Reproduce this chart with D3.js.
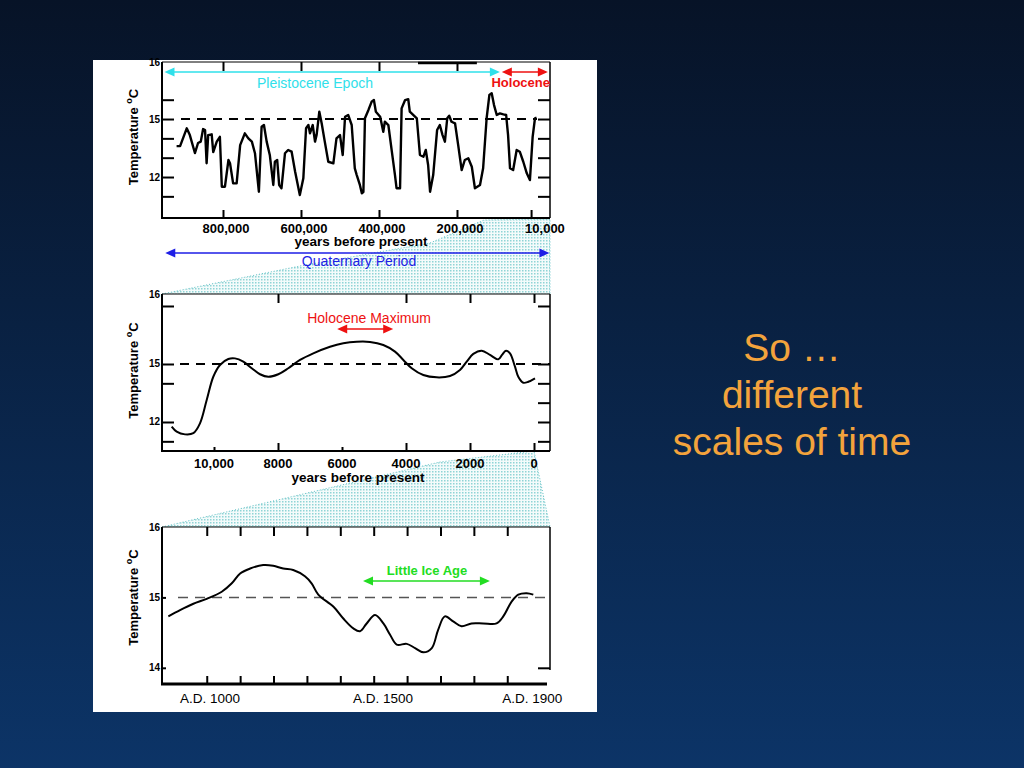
<!DOCTYPE html>
<html>
<head>
<meta charset="utf-8">
<script src="https://cdn.jsdelivr.net/npm/d3@7"></script>
<style>
body { margin: 0; background: #0a1f3d; }
text { font-family: "Liberation Sans", Arial, sans-serif; }
</style>
</head>
<body>
<svg width="1024" height="768"></svg>
<script>
// top panel: thousands of years before present / temperature
const topKyr = [919,910,893,885,872,864,857,851,846,842,838,829,825,816,808,803,795,786,782,774,
  765,756,744,735,726,718,708,701,695,688,680,671,667,661,656,650,641,633,624,615,
  603,594,587,581,577,570,564,560,553,547,539,530,517,509,500,493,487,479,470,462,
  457,449,444,440,436,427,419,413,408,397,389,385,376,367,359,355,346,342,333,325,
  321,303,295,286,280,274,269,261,251,244,237,231,225,220,214,205,197,188,180,171,
  162,154,141,133,124,117,111,105,98,90,81,74,69,64,56,47,39,30,21,13,6,0,-4];
const topTemp = [13.60,13.60,14.52,14.17,13.24,13.76,13.83,14.48,14.43,12.71,14.17,14.21,13.29,13.83,14.08,11.50,11.50,12.88,12.71,11.67,
  11.67,13.65,14.26,14.00,13.83,13.23,11.24,14.60,14.69,13.83,13.14,11.59,12.79,12.88,11.59,11.42,13.23,13.40,13.31,12.27,
  11.07,11.93,14.52,14.69,14.26,14.69,13.83,14.17,15.38,14.78,13.83,12.79,12.71,14.00,14.17,13.14,15.12,15.21,14.69,12.45,
  12.10,11.59,11.16,11.22,15.04,15.47,15.89,15.98,15.38,15.12,14.34,14.86,14.69,13.31,12.10,11.42,11.42,15.55,15.98,16.03,
  15.38,15.04,13.14,13.05,13.40,12.62,11.24,12.10,14.43,14.69,14.17,13.83,15.04,15.17,14.86,14.78,13.66,12.36,12.88,12.97,
  12.53,11.42,11.59,12.45,15.04,16.24,16.33,15.72,15.21,15.29,15.24,15.21,14.17,12.45,12.36,13.40,13.31,12.79,12.19,11.84,14.08,15.04,15.07];

// middle panel: years before present / temperature
const midYears = [11322,11166,10906,10647,10438,10228,10022,9813,9553,9344,9084,8822,8563,8303,7991,7678,7313,6897,6375,5959,
  5541,5125,4709,4344,4084,3822,3459,3041,2625,2313,2103,1897,1634,1375,1116,1000,875,750,594,491,334,178,-31];
const midTemp = [11.76,11.50,11.36,11.42,11.93,13.14,14.34,14.95,15.26,15.29,15.12,14.78,14.47,14.34,14.47,14.78,15.21,15.55,15.89,16.07,
  16.15,16.14,15.98,15.64,15.21,14.78,14.43,14.31,14.38,14.69,15.12,15.52,15.69,15.47,15.24,15.47,15.69,15.55,14.86,14.34,14.03,14.08,14.26];

// bottom panel: year A.D. / temperature
const botYears = [885,920,960,1000,1045,1075,1100,1130,1169,1199,1229,1259,1294,1314,1334,1379,1409,1439,1459,1479,
  1504,1529,1549,1569,1599,1624,1649,1674,1693,1713,1738,1763,1793,1828,1868,1888,1913,1933,1958,1978];
const botTemp = [14.73,14.82,14.91,14.98,15.08,15.20,15.34,15.41,15.46,15.45,15.41,15.39,15.30,15.20,15.04,14.87,14.70,14.56,14.52,14.63,
  14.75,14.63,14.47,14.33,14.34,14.28,14.22,14.28,14.54,14.73,14.66,14.59,14.63,14.63,14.63,14.73,14.94,15.04,15.06,15.04];

// ticks and labels
const topXTicks = [800, 600, 400, 200];
const topXLabelVals = [800, 600, 400, 200, 10];
const topXLabels = ["800,000", "600,000", "400,000", "200,000", "10,000"];
const topYTicks = [16, 15, 14, 13, 12, 11];
const midXMajor = [8000, 4000, 2000, 0];
const midXMinor = [10000, 6000];
const midXLabelVals = [10000, 8000, 6000, 4000, 2000, 0];
const midXLabels = ["10,000", "8000", "6000", "4000", "2000", "0"];
const midYLeft = [18, 15, 14, 12, 11];
const midYRight = [18, 15, 14, 13, 12, 11];
const botXTicks = [1000, 1100, 1200, 1300, 1400, 1500, 1600, 1700, 1800, 1900];
const botXLabelVals = [1010, 1528, 1975];
const botXLabels = ["A.D. 1000", "A.D. 1500", "A.D. 1900"];
const yLabelText = ["16", "15", "12"];
const botYLabelText = ["16", "15", "14"];

const svg = d3.select("svg");
const defs = svg.append("defs");
const grad = defs.append("linearGradient").attr("id", "bg")
    .attr("x1", 0).attr("y1", 0).attr("x2", 0).attr("y2", 1);
grad.append("stop").attr("offset", "0%").attr("stop-color", "#071327");
grad.append("stop").attr("offset", "100%").attr("stop-color", "#0c3467");
svg.append("rect").attr("width", 1024).attr("height", 768).attr("fill", "url(#bg)");

const pat = defs.append("pattern").attr("id", "dots")
    .attr("width", 3).attr("height", 3).attr("patternUnits", "userSpaceOnUse");
pat.append("rect").attr("width", 3).attr("height", 3).attr("fill", "#f4fbfb");
pat.append("rect").attr("width", 1.5).attr("height", 1.5).attr("fill", "#8fd4d6");

// white sheet
svg.append("rect").attr("x", 93).attr("y", 60).attr("width", 504).attr("height", 652).attr("fill", "#fff");

const L = 162, R = 550;
const xTop = d3.scaleLinear().domain([956.4, -38.5]).range([L, R]);
const yTop = d3.scaleLinear().domain([9.88, 17.95]).range([218, 62]);
const xMid = d3.scaleLinear().domain([11625, -500]).range([L, R]);
const yMid = d3.scaleLinear().domain([10.5, 18.62]).range([451, 294]);
const xBot = d3.scaleLinear().domain([866, 2028]).range([L, R]);
const yBot = d3.scaleLinear().domain([13.77, 16]).range([684, 527]);

// zoom connectors (dotted cyan)
const conn1 = [[L, 294], [300, 266], [430, 243], [484, 220], [R, 219], [R, 294]];
const conn2 = [[L, 527], [440, 462], [534, 451], [R, 527]];
[conn1, conn2].forEach(function(p) {
    svg.append("path")
        .attr("d", d3.line()(p) + "Z")
        .attr("fill", "url(#dots)")
        .attr("stroke", "#5fc0c4")
        .attr("stroke-width", 1)
        .attr("stroke-dasharray", "1,2");
});

function noDomain(g) { g.select(".domain").remove(); g.selectAll("line").attr("stroke", "#000").attr("stroke-width", 2); }

function frame(x, y, o) {
    const g = svg.append("g");
    const [y0, y1] = y.range(); // bottom, top
    g.append("rect").attr("x", L).attr("y", y1).attr("width", R - L).attr("height", y0 - y1).attr("fill", "#fff");
    g.append("line").attr("x1", L).attr("x2", R).attr("y1", y1).attr("y2", y1).attr("stroke", "#000").attr("stroke-width", 1);
    g.append("line").attr("x1", L).attr("x2", L).attr("y1", y1).attr("y2", y0).attr("stroke", "#000").attr("stroke-width", 2);
    g.append("line").attr("x1", R).attr("x2", R).attr("y1", y1).attr("y2", o.rightEnd || y0).attr("stroke", "#000").attr("stroke-width", 1.5);
    g.append("line").attr("x1", L - 1).attr("x2", o.bottomEnd || R).attr("y1", y0).attr("y2", y0).attr("stroke", "#000").attr("stroke-width", o.bottomW || 2);
    g.append("g").attr("transform", "translate(" + L + ",0)")
        .call(d3.axisRight(y).tickValues(o.yLeft).tickSize(o.yLeftSize || 12).tickFormat("")).call(noDomain);
    g.append("g").attr("transform", "translate(" + R + ",0)")
        .call(d3.axisLeft(y).tickValues(o.yRight).tickSize(12).tickFormat("")).call(noDomain);
    g.append("g").attr("transform", "translate(0," + y1 + ")")
        .call(d3.axisBottom(x).tickValues(o.xTop).tickSize(9).tickFormat("")).call(noDomain);
    g.append("g").attr("transform", "translate(0," + y0 + ")")
        .call(d3.axisTop(x).tickValues(o.xBottom).tickSize(8).tickFormat("")).call(noDomain);
    if (o.xMinor) {
        g.append("g").attr("transform", "translate(0," + y0 + ")")
            .call(d3.axisTop(x).tickValues(o.xMinor).tickSize(4).tickFormat("")).call(noDomain);
    }
    // dashed 15 degree line
    g.append("line").attr("x1", o.dashStart).attr("x2", o.dashEnd || R).attr("y1", y(15)).attr("y2", y(15))
        .attr("stroke", o.dashColor || "#000").attr("stroke-width", o.dashW || 2).attr("stroke-dasharray", o.dash);
    // y labels
    o.yLabels.forEach(function(v, i) {
        g.append("text").attr("x", L - 2).attr("y", y(v)).attr("dy", "0.35em")
            .attr("text-anchor", "end").attr("font-size", 10).attr("font-weight", "bold").text(o.yLabelText[i]);
    });
    // axis title
    const cy = (y0 + y1) / 2 + o.titleShift;
    const t = g.append("text").attr("transform", "translate(138," + cy + ") rotate(-90)")
        .attr("text-anchor", "middle").attr("font-size", 13).attr("font-weight", "bold");
    t.append("tspan").text("Temperature ");
    t.append("tspan").attr("font-size", 9).attr("dy", -6).text("o");
    t.append("tspan").attr("dy", 6).text("C");
    return g;
}

frame(xTop, yTop, {
    yLeft: topYTicks, yRight: topYTicks, xTop: topXTicks, xBottom: topXTicks.concat([10]),
    dashStart: 181, dashEnd: 537, dash: "9,7", yLabels: [17.95, 15, 12], yLabelText: yLabelText, titleShift: -3
});
frame(xMid, yMid, {
    yLeft: midYLeft, yRight: midYRight, xTop: midXMajor, xBottom: midXMajor, xMinor: midXMinor,
    dashStart: 180, dash: "9,7", yLabels: [18.62, 15, 12], yLabelText: yLabelText, titleShift: -2
});
frame(xBot, yBot, {
    yLeft: [15, 14], yLeftSize: 4, yRight: [14], xTop: botXTicks, xBottom: botXTicks,
    dashStart: 178, dash: "10,7", dashColor: "#555", dashW: 1.5, bottomW: 3, bottomEnd: 547, rightEnd: 670,
    yLabels: [16, 15, 14], yLabelText: botYLabelText, titleShift: -8
});

// thick stub on top frame
svg.append("line").attr("x1", xTop(300)).attr("x2", xTop(149)).attr("y1", 63).attr("y2", 63)
    .attr("stroke", "#000").attr("stroke-width", 2.5);

// curves
svg.append("path").datum(d3.zip(topKyr, topTemp))
    .attr("d", d3.line().x(d => xTop(d[0])).y(d => yTop(d[1])))
    .attr("fill", "none").attr("stroke", "#000").attr("stroke-width", 2.4).attr("stroke-linejoin", "round");
svg.append("path").datum(d3.zip(midYears, midTemp))
    .attr("d", d3.line().curve(d3.curveCatmullRom.alpha(0.5)).x(d => xMid(d[0])).y(d => yMid(d[1])))
    .attr("fill", "none").attr("stroke", "#000").attr("stroke-width", 2);
svg.append("path").datum(d3.zip(botYears, botTemp))
    .attr("d", d3.line().curve(d3.curveCatmullRom.alpha(0.5)).x(d => xBot(d[0])).y(d => yBot(d[1])))
    .attr("fill", "none").attr("stroke", "#000").attr("stroke-width", 2);

// x labels
function label(x, y, txt, o) {
    return svg.append("text").attr("x", x).attr("y", y).attr("text-anchor", o.anchor || "middle")
        .attr("font-size", o.size).attr("font-weight", o.weight || "normal").attr("fill", o.color || "#000").text(txt);
}
topXLabelVals.forEach(function(v, i) {
    const last = i === topXLabelVals.length - 1;
    label(last ? xTop(v) - 6 : xTop(v) + 3, 233, topXLabels[i], { size: 13, weight: "bold", anchor: last ? "start" : "middle" });
});
label(361, 246, "years before present", { size: 13.5, weight: "bold" });
midXLabelVals.forEach(function(v, i) {
    label(xMid(v), 468, midXLabels[i], { size: 13, weight: "bold" });
});
label(358, 482, "years before present", { size: 13.5, weight: "bold" });
botXLabelVals.forEach(function(v, i) {
    label(xBot(v), 703, botXLabels[i], { size: 13.5 });
});

// period arrows
function arrow(x1, x2, y, color) {
    svg.append("line").attr("x1", x1 + 4).attr("x2", x2 - 4).attr("y1", y).attr("y2", y)
        .attr("stroke", color).attr("stroke-width", 1.5);
    svg.append("path").attr("d", "M" + x1 + "," + y + "l10,-4.5v9z M" + x2 + "," + y + "l-10,-4.5v9z").attr("fill", color);
}
arrow(xTop(950), xTop(90), 72, "#2fe0ea");
arrow(xTop(85), xTop(-33), 72, "#ee1111");
label(315, 88, "Pleistocene Epoch", { size: 14, color: "#2fe0ea" });
label(550, 87, "Holocene", { size: 13, weight: "bold", color: "#ee1111", anchor: "end" });

arrow(xTop(948), xTop(-37), 253, "#1e1ee6");
label(359, 266, "Quaternary Period", { size: 14, color: "#1e1ee6" });

arrow(xMid(6150), xMid(4400), 329, "#ee1111");
label(369, 323, "Holocene Maximum", { size: 14, color: "#ee1111" });

arrow(xBot(1468), xBot(1848), 581, "#22dd22");
label(427, 575, "Little Ice Age", { size: 13, weight: "bold", color: "#22dd22" });

// slide text
const words = ["So \u2026", "different", "scales of time"];
const baselines = [361, 408, 455];
words.forEach(function(w, i) {
    svg.append("text").attr("x", 792).attr("y", baselines[i]).attr("text-anchor", "middle")
        .attr("font-size", 39).attr("fill", "#f3a33c").text(w);
});
</script>
</body>
</html>
